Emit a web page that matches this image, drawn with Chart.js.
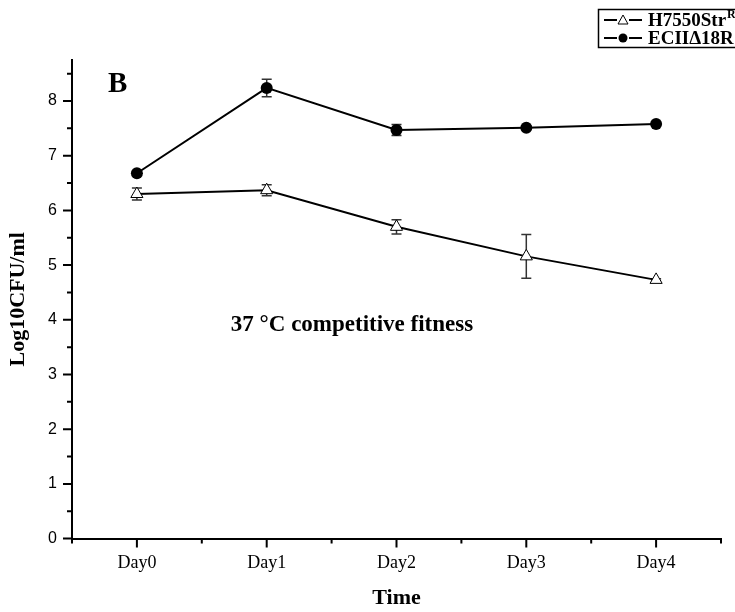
<!DOCTYPE html>
<html>
<head>
<meta charset="utf-8">
<title>37 °C competitive fitness</title>
<script src="https://cdn.jsdelivr.net/npm/chart.js@4.4.1/dist/chart.umd.min.js"></script>
<style>
  html, body { margin: 0; padding: 0; background: #fff; }
  #wrap { width: 735px; height: 612px; }
</style>
</head>
<body>
<div id="wrap"><canvas id="chart" width="735" height="612"></canvas></div>
<script>
// donnees
const days = ['Day0', 'Day1', 'Day2', 'Day3', 'Day4'];
const h7550 = [6.30, 6.37, 5.70, 5.16, 4.73];
const h7550Err = [0.11, 0.10, 0.13, 0.40, 0.02];
const ecii = [6.68, 8.24, 7.47, 7.51, 7.58];
const eciiErr = [0.03, 0.16, 0.10, 0.03, 0.02];
const yMax = 8.75;

const SERIF = '"Liberation Serif", "Times New Roman", serif';
const SANS = '"Liberation Sans", Arial, sans-serif';

function toPoints(values) {
    return values.map((v, i) => ({ x: i, y: v }));
}

// barres d'erreur, dessinees sous les marqueurs
const errorBars = {
    id: 'errorBars',
    beforeDatasetsDraw(chart) {
        const ctx = chart.ctx;
        const xs = chart.scales.x, ys = chart.scales.y;
        ctx.save();
        ctx.strokeStyle = '#333';
        ctx.lineWidth = 1.5;
        chart.data.datasets.forEach(ds => {
            ds.errors.forEach((e, i) => {
                if (!e) return;
                const x = xs.getPixelForValue(i);
                const top = ys.getPixelForValue(ds.data[i].y + e);
                const bot = ys.getPixelForValue(ds.data[i].y - e);
                ctx.beginPath();
                ctx.moveTo(x, top); ctx.lineTo(x, bot);
                ctx.moveTo(x - 5, top); ctx.lineTo(x + 5, top);
                ctx.moveTo(x - 5, bot); ctx.lineTo(x + 5, bot);
                ctx.stroke();
            });
        });
        ctx.restore();
    }
};

// graduations majeures / mineures style Origin
const axisTicks = {
    id: 'axisTicks',
    afterDraw(chart) {
        const ctx = chart.ctx;
        const xs = chart.scales.x, ys = chart.scales.y;
        const area = chart.chartArea;
        ctx.save();
        ctx.strokeStyle = '#000';
        ctx.lineWidth = 2;
        ctx.beginPath();
        for (let v = -0.5; v <= 4.5; v += 0.5) {
            const x = xs.getPixelForValue(v);
            const len = Number.isInteger(v) ? 9 : 5;
            ctx.moveTo(x, area.bottom); ctx.lineTo(x, area.bottom + len);
        }
        for (let v = 0; v <= 8.5; v += 0.5) {
            const y = ys.getPixelForValue(v);
            const len = Number.isInteger(v) ? 9 : 5;
            ctx.moveTo(area.left, y); ctx.lineTo(area.left - len, y);
        }
        ctx.stroke();
        ctx.restore();
    }
};

// textes de la figure + legende encadree
const annotations = {
    id: 'annotations',
    afterDraw(chart) {
        const ctx = chart.ctx;
        ctx.save();
        ctx.fillStyle = '#000';
        ctx.textBaseline = 'alphabetic';
        ctx.font = 'bold 29px ' + SERIF;
        ctx.fillText('B', 108, 92);
        ctx.font = 'bold 23px ' + SERIF;
        ctx.textAlign = 'center';
        ctx.fillText('37 \u00B0C competitive fitness', 352, 331);

        // legende
        ctx.textAlign = 'left';
        ctx.strokeStyle = '#000';
        ctx.lineWidth = 1.5;
        ctx.strokeRect(598.5, 9.5, 150, 38);
        const rows = [
            { y: 20, label: 'H7550Str', sup: 'R', style: 'triangle' },
            { y: 38, label: 'ECII\u039418R', sup: '', style: 'circle' }
        ];
        rows.forEach(r => {
            ctx.lineWidth = 2;
            ctx.beginPath();
            ctx.moveTo(604, r.y); ctx.lineTo(617, r.y);
            ctx.moveTo(629, r.y); ctx.lineTo(642, r.y);
            ctx.stroke();
            if (r.style === 'circle') {
                ctx.beginPath();
                ctx.arc(623, r.y, 4.5, 0, Math.PI * 2);
                ctx.fill();
            } else {
                ctx.beginPath();
                ctx.moveTo(623, r.y - 5);
                ctx.lineTo(628, r.y + 4);
                ctx.lineTo(618, r.y + 4);
                ctx.closePath();
                ctx.lineWidth = 1;
                ctx.stroke();
            }
            ctx.font = 'bold 19px ' + SERIF;
            ctx.fillText(r.label, 648, r.y + 6);
            if (r.sup) {
                const w = ctx.measureText(r.label).width;
                ctx.font = 'bold 12px ' + SERIF;
                ctx.fillText(r.sup, 648 + w + 1, r.y - 2);
            }
        });
        ctx.restore();
    }
};

const chart = new Chart(document.getElementById('chart'), {
    type: 'line',
    data: {
        datasets: [
            {
                label: 'H7550StrR',
                data: toPoints(h7550),
                errors: h7550Err,
                borderColor: '#000',
                borderWidth: 2,
                pointStyle: 'triangle',
                pointRadius: 7,
                pointBackgroundColor: '#fff',
                pointBorderColor: '#000',
                pointBorderWidth: 1,
                tension: 0
            },
            {
                label: 'ECII\u039418R',
                data: toPoints(ecii),
                errors: eciiErr,
                borderColor: '#000',
                borderWidth: 2,
                pointStyle: 'circle',
                pointRadius: 6,
                pointBackgroundColor: '#000',
                pointBorderColor: '#000',
                pointBorderWidth: 0,
                tension: 0
            }
        ]
    },
    options: {
        responsive: false,
        animation: false,
        devicePixelRatio: 1,
        layout: { padding: { left: 0, right: 14, top: 60, bottom: 0 } },
        plugins: {
            legend: { display: false },
            tooltip: { enabled: false }
        },
        scales: {
            x: {
                type: 'linear',
                min: -0.5,
                max: 4.5,
                grid: { display: false, drawTicks: false },
                border: { display: true, color: '#000', width: 2 },
                ticks: {
                    stepSize: 0.5,
                    autoSkip: false,
                    maxRotation: 0,
                    padding: 14,
                    color: '#000',
                    font: { family: SERIF, size: 18 },
                    callback: v => Number.isInteger(v) ? days[v] : ''
                },
                title: {
                    display: true,
                    text: 'Time',
                    color: '#000',
                    font: { family: SERIF, size: 22, weight: 'bold' },
                    padding: { top: 0, bottom: 0 }
                },
                afterFit: scale => { scale.height = 73.4; }
            },
            y: {
                min: 0,
                max: yMax,
                grid: { display: false, drawTicks: false },
                border: { display: true, color: '#000', width: 2 },
                ticks: {
                    stepSize: 0.5,
                    autoSkip: false,
                    padding: 15,
                    color: '#000',
                    font: { family: SANS, size: 16 },
                    callback: v => Number.isInteger(v) ? v : ''
                },
                title: {
                    display: true,
                    text: 'Log10CFU/ml',
                    color: '#000',
                    font: { family: SERIF, size: 22, weight: 'bold' },
                    padding: { top: 5, bottom: 0 }
                },
                afterFit: scale => { scale.width = 72; }
            }
        }
    },
    plugins: [errorBars, axisTicks, annotations]
});
</script>
</body>
</html>
